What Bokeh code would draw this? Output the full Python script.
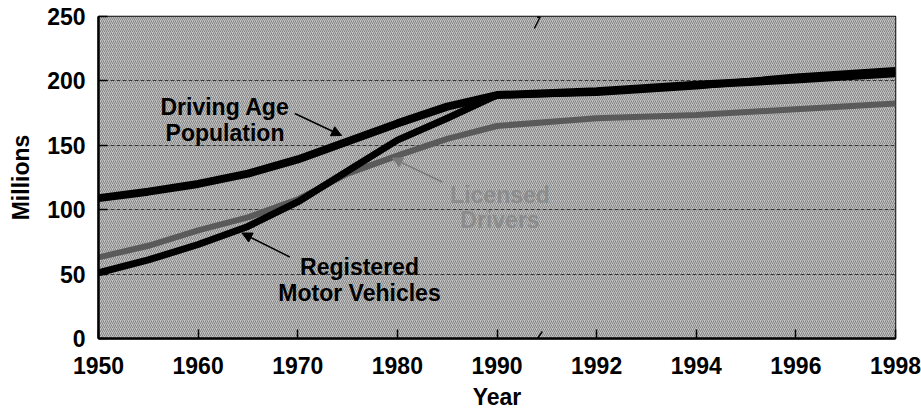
from bokeh.plotting import figure
from bokeh.models import BoxAnnotation, Label, Arrow, NormalHead, FixedTicker, Range1d
from bokeh.embed import file_html
from bokeh.resources import INLINE

# ---- data ----
years = [1950, 1955, 1960, 1965, 1970, 1975, 1980, 1985, 1990, 1992, 1994, 1996, 1998]
driving_age_pop = [109, 114, 120, 128, 139, 153, 167, 180, 189, 192, 197, 201, 206]
registered_vehicles = [51, 61, 73, 87, 106, 130, 154, 171, 189, 191, 196, 203, 208]
licensed_drivers = [63, 72, 84, 94, 108, 128, 142, 155, 165, 171, 173.5, 178, 182.5]
tick_years = [1950, 1960, 1970, 1980, 1990, 1992, 1994, 1996, 1998]
y_ticks = [0, 50, 100, 150, 200, 250]
BREAK_YEAR = 1990.85


def pos(year):
    # broken x axis: 10-year steps up to 1990, then 2-year steps
    return (year - 1950) / 10 if year <= 1990 else 4 + (year - 1990) / 2


xs = [pos(y) for y in years]
FONT = "Liberation Sans"

p = figure(width=921, height=416, output_backend="svg", toolbar_location=None,
           x_range=Range1d(0, 8), y_range=Range1d(0, 250),
           min_border_left=98, min_border_right=26, min_border_top=16,
           min_border_bottom=78)

p.background_fill_color = "#c4c4c4"
p.border_fill_color = "white"
p.outline_line_color = "black"
p.outline_line_width = 1.5

bg = BoxAnnotation(fill_color="#c4c4c4", fill_alpha=1.0, line_alpha=0,
                   hatch_pattern="/", hatch_color="#4a4a4a", hatch_alpha=0.55,
                   hatch_scale=4, hatch_weight=1, level="image")
p.add_layout(bg)

# grid
p.xgrid.grid_line_color = None
p.ygrid.ticker = FixedTicker(ticks=y_ticks)
p.ygrid.grid_line_color = "#1a1a1a"
p.ygrid.grid_line_dash = "4 2"
p.ygrid.grid_line_width = 1
p.ygrid.grid_line_alpha = 0.8

# axes
xt = [pos(y) for y in tick_years]
p.xaxis.ticker = FixedTicker(ticks=xt)
p.xaxis.major_label_overrides = {t: str(y) for t, y in zip(xt, tick_years)}
p.yaxis.ticker = FixedTicker(ticks=y_ticks)
for ax in (p.xaxis[0], p.yaxis[0]):
    ax.axis_line_color = "black"
    ax.axis_line_width = 2.5
    ax.major_tick_line_color = "black"
    ax.major_tick_line_width = 1.5
    ax.major_tick_in = 9
    ax.major_tick_out = 0
    ax.minor_tick_line_color = None
    ax.major_label_text_font = FONT
    ax.major_label_text_font_style = "bold"
    ax.major_label_text_font_size = "23px"
    ax.major_label_text_color = "black"
    ax.axis_label_text_font = FONT
    ax.axis_label_text_font_style = "bold"
    ax.axis_label_text_font_size = "23px"
    ax.axis_label_text_color = "black"

p.xaxis.axis_label = "Year"
p.xaxis.major_label_standoff = 18
p.xaxis.axis_label_standoff = 7
p.yaxis.axis_label = "Millions"
p.yaxis.major_label_standoff = 13
p.yaxis.axis_label_standoff = 10

# lines
p.line(xs, licensed_drivers, line_color="#5a5a5a", line_width=6, line_join="round")
p.line(xs, registered_vehicles, line_color="black", line_width=7, line_join="round")
p.line(xs, driving_age_pop, line_color="black", line_width=8, line_join="round")

# annotations
PXU = 99.5     # px per x unit
PXV = 1.288    # px per million


def lab(x, y, text, color="black"):
    p.add_layout(Label(x=x, y=y, text=text, text_align="center",
                       text_baseline="alphabetic", text_font=FONT,
                       text_font_style="bold", text_font_size="23px",
                       text_color=color))


lab(1.27, 179.7, "Driving Age")
lab(1.27, 159.5, "Population")
lab(2.62, 55.5, "Registered")
lab(2.62, 35.3, "Motor Vehicles")
lab(4.03, 111.4, "Licensed", "#8c8c8c")
lab(4.03, 92.0, "Drivers", "#8c8c8c")


def arrow(x0, y0, x1, y1, color="black"):
    p.add_layout(Arrow(end=NormalHead(size=10, fill_color=color, line_color=color),
                       x_start=x0, y_start=y0, x_end=x1, y_end=y1,
                       line_color=color, line_width=1.5))


arrow(1.97, 174.7, 2.44, 157.6)
arrow(1.92, 63.3, 1.44, 81.9)
arrow(3.45, 121.5, 2.95, 140.1, "#7a7a7a")

# axis-break marks (zigzags at top and bottom edges)
bu = pos(BREAK_YEAR)


def zigzag(base_v, offsets):
    pts = [(bu + dx / PXU, base_v - dy / PXV) for dx, dy in offsets]
    for (a, b), (c, d) in zip(pts[:-1], pts[1:]):
        p.add_layout(Arrow(end=None, x_start=a, y_start=b, x_end=c, y_end=d,
                           line_color="black", line_width=1.5))


zigzag(250, [(-5, 12), (1, 0), (-2, 1), (3, -9)])
zigzag(0, [(-8, 14), (-1, 2), (-4, 3), (3, -7)])

open("out.html", "w").write(file_html(p, INLINE))
